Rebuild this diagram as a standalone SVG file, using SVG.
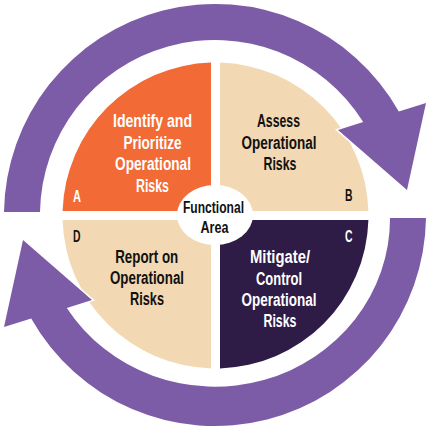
<svg xmlns="http://www.w3.org/2000/svg" width="430" height="430" viewBox="0 0 430 430">
  <style>
    .arrow { fill: #7D5CA7; stroke: #ffffff; stroke-width: 3; paint-order: stroke; stroke-linejoin: miter; }
    .t { font-family: "Liberation Sans", Arial, sans-serif; font-weight: bold; text-anchor: middle; font-size: 17.5px; }
    .c { font-size: 16px; }
    .ltr { font-family: "Liberation Sans", Arial, sans-serif; font-weight: bold; font-size: 16px; }
    .w { fill: #ffffff; }
    .k { fill: #111111; }
  </style>
  <rect width="430" height="430" fill="#ffffff"/>
  <g id="quadrantA">
    <path d="M211,211 V62.6 A153,153 0 0,0 62.6,211 Z" fill="#F26A35"/>
    <text class="t w" x="152.5" y="127" textLength="79" lengthAdjust="spacingAndGlyphs">Identify and</text>
    <text class="t w" x="152.5" y="148.5" textLength="58" lengthAdjust="spacingAndGlyphs">Prioritize</text>
    <text class="t w" x="153" y="170" textLength="76" lengthAdjust="spacingAndGlyphs">Operational</text>
    <text class="t w" x="152.5" y="191.5" textLength="33" lengthAdjust="spacingAndGlyphs">Risks</text>
    <text class="ltr w" x="73" y="201.5" textLength="8" lengthAdjust="spacingAndGlyphs">A</text>
  </g>
  <g id="quadrantB">
    <path d="M220,211 H368.4 A153,153 0 0,0 220,62.6 Z" fill="#F2D9B4"/>
    <text class="t k" x="278.5" y="127" textLength="43" lengthAdjust="spacingAndGlyphs">Assess</text>
    <text class="t k" x="279" y="148.5" textLength="75" lengthAdjust="spacingAndGlyphs">Operational</text>
    <text class="t k" x="280" y="169.5" textLength="33" lengthAdjust="spacingAndGlyphs">Risks</text>
    <text class="ltr k" x="345" y="200.5" textLength="7.5" lengthAdjust="spacingAndGlyphs">B</text>
  </g>
  <g id="quadrantC">
    <path d="M220,220 V368.4 A153,153 0 0,0 368.4,220 Z" fill="#2E1B46"/>
    <text class="t w" x="280" y="263" textLength="60" lengthAdjust="spacingAndGlyphs">Mitigate/</text>
    <text class="t w" x="279" y="284.5" textLength="46" lengthAdjust="spacingAndGlyphs">Control</text>
    <text class="t w" x="279" y="305.5" textLength="75" lengthAdjust="spacingAndGlyphs">Operational</text>
    <text class="t w" x="280" y="326.5" textLength="33" lengthAdjust="spacingAndGlyphs">Risks</text>
    <text class="ltr w" x="345" y="241.5" textLength="7.5" lengthAdjust="spacingAndGlyphs">C</text>
  </g>
  <g id="quadrantD">
    <path d="M211,220 H62.6 A153,153 0 0,0 211,368.4 Z" fill="#F2D9B4"/>
    <text class="t k" x="146.7" y="263" textLength="63" lengthAdjust="spacingAndGlyphs">Report on</text>
    <text class="t k" x="147" y="284" textLength="74" lengthAdjust="spacingAndGlyphs">Operational</text>
    <text class="t k" x="147" y="305" textLength="34" lengthAdjust="spacingAndGlyphs">Risks</text>
    <text class="ltr k" x="73" y="241.5" textLength="7.5" lengthAdjust="spacingAndGlyphs">D</text>
  </g>
  <g id="connectors">
    <path class="arrow" d="M4,212 A211,211 0 0,1 398.8,111.4 L426,103 L407,190 L338,130 L363.2,122 A175,175 0 0,0 40,212 Z"/>
    <path class="arrow" d="M426,218 A211,211 0 0,1 31.2,318.6 L4,327 L23,240 L92,300 L66.8,308 A175,168 0 0,0 390,218 Z"/>
  </g>
  <g id="center">
    <ellipse cx="215" cy="215" rx="38" ry="30" fill="#ffffff"/>
    <text class="t c k" x="213.5" y="213" textLength="61" lengthAdjust="spacingAndGlyphs">Functional</text>
    <text class="t c k" x="214.5" y="232.5" textLength="28" lengthAdjust="spacingAndGlyphs">Area</text>
  </g>
</svg>
